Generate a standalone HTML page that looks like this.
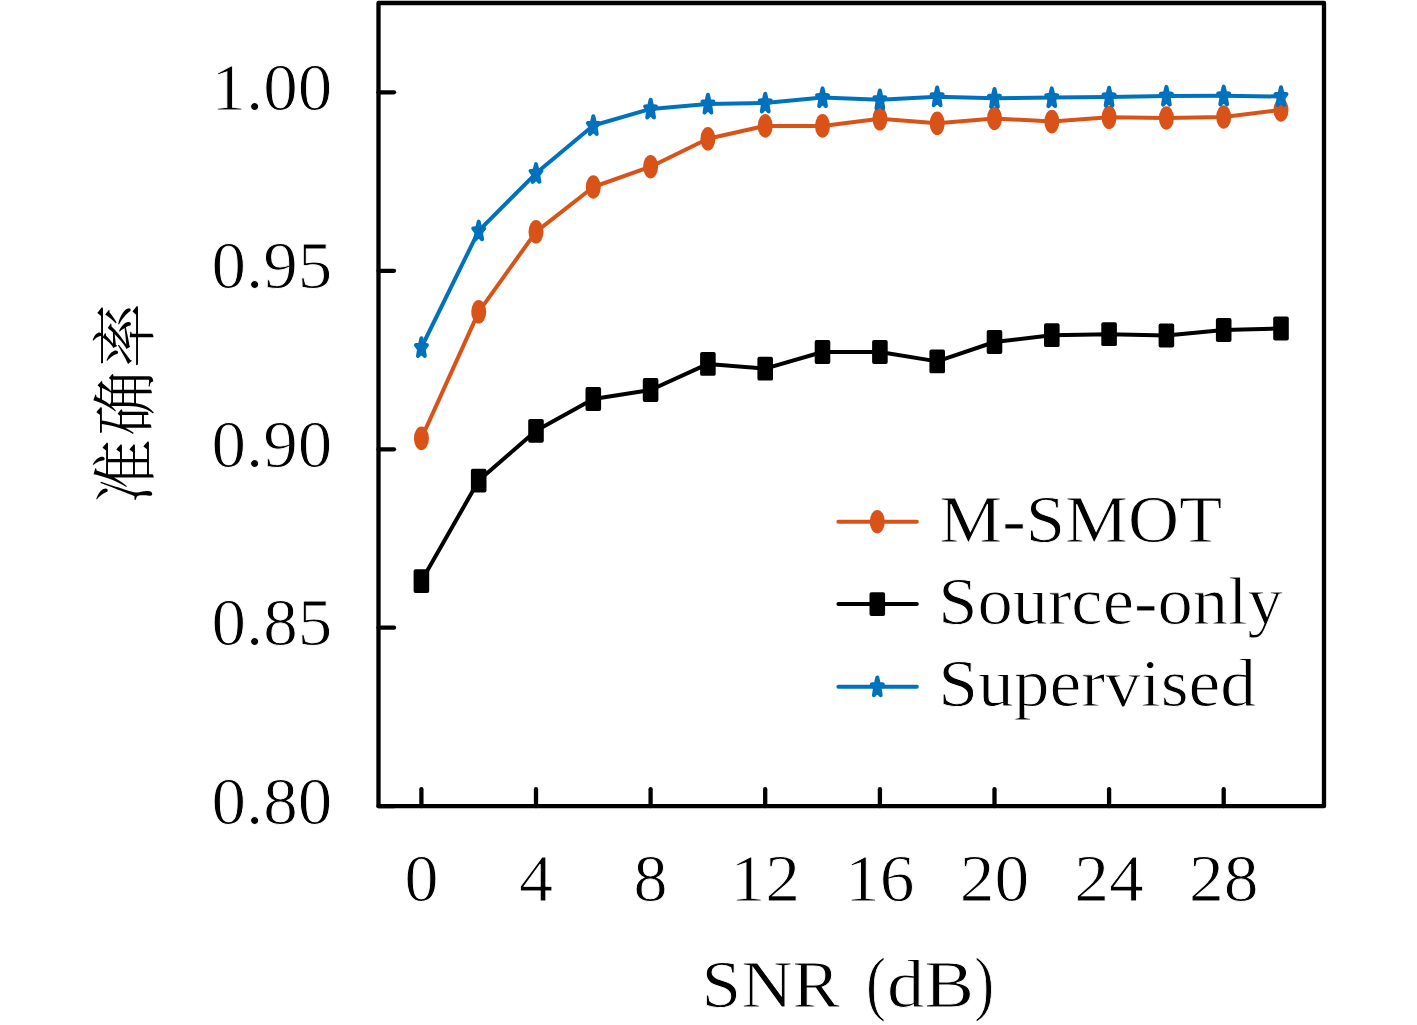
<!DOCTYPE html>
<html lang="zh"><head><meta charset="utf-8"><title>SNR accuracy chart</title>
<style>
html,body{margin:0;padding:0;background:#fff;}
body{width:1417px;height:1025px;overflow:hidden;}
svg{display:block;}
text{font-family:"Liberation Serif","Noto Serif CJK SC",serif;fill:#000;stroke:#fff;stroke-width:0.9px;}
.cjk{font-family:"Noto Serif CJK SC","Liberation Serif",serif;stroke:none;}
</style></head><body>
<svg width="1417" height="1025" viewBox="0 0 1417 1025">
<rect x="0" y="0" width="1417" height="1025" fill="#fff"/>
<g stroke="#000" stroke-width="4.3" fill="none" stroke-linecap="round" stroke-linejoin="round">
<rect x="378.5" y="3.0" width="945.5" height="803.2"/>
<line x1="378.5" y1="92.3" x2="394.0" y2="92.3"/>
<line x1="378.5" y1="270.8" x2="394.0" y2="270.8"/>
<line x1="378.5" y1="449.3" x2="394.0" y2="449.3"/>
<line x1="378.5" y1="627.7" x2="394.0" y2="627.7"/>
<line x1="378.5" y1="806.2" x2="394.0" y2="806.2"/>
<line x1="421.4" y1="806.2" x2="421.4" y2="789.2"/>
<line x1="536.0" y1="806.2" x2="536.0" y2="789.2"/>
<line x1="650.6" y1="806.2" x2="650.6" y2="789.2"/>
<line x1="765.2" y1="806.2" x2="765.2" y2="789.2"/>
<line x1="879.9" y1="806.2" x2="879.9" y2="789.2"/>
<line x1="994.5" y1="806.2" x2="994.5" y2="789.2"/>
<line x1="1109.1" y1="806.2" x2="1109.1" y2="789.2"/>
<line x1="1223.7" y1="806.2" x2="1223.7" y2="789.2"/>
</g>
<polyline points="421.4,438.3 478.7,311.8 536.0,231.8 593.3,187.0 650.6,166.7 707.9,138.8 765.2,125.9 822.5,125.9 879.9,118.8 937.2,123.3 994.5,118.4 1051.8,121.6 1109.1,117.3 1166.4,118.0 1223.7,117.0 1281.0,110.0" fill="none" stroke="#D95319" stroke-width="4.0" stroke-linejoin="round" stroke-linecap="round"/>
<ellipse cx="421.4" cy="438.3" rx="7.5" ry="11.8" fill="#D95319"/>
<ellipse cx="478.7" cy="311.8" rx="7.5" ry="11.8" fill="#D95319"/>
<ellipse cx="536.0" cy="231.8" rx="7.5" ry="11.8" fill="#D95319"/>
<ellipse cx="593.3" cy="187.0" rx="7.5" ry="11.8" fill="#D95319"/>
<ellipse cx="650.6" cy="166.7" rx="7.5" ry="11.8" fill="#D95319"/>
<ellipse cx="707.9" cy="138.8" rx="7.5" ry="11.8" fill="#D95319"/>
<ellipse cx="765.2" cy="125.9" rx="7.5" ry="11.8" fill="#D95319"/>
<ellipse cx="822.5" cy="125.9" rx="7.5" ry="11.8" fill="#D95319"/>
<ellipse cx="879.9" cy="118.8" rx="7.5" ry="11.8" fill="#D95319"/>
<ellipse cx="937.2" cy="123.3" rx="7.5" ry="11.8" fill="#D95319"/>
<ellipse cx="994.5" cy="118.4" rx="7.5" ry="11.8" fill="#D95319"/>
<ellipse cx="1051.8" cy="121.6" rx="7.5" ry="11.8" fill="#D95319"/>
<ellipse cx="1109.1" cy="117.3" rx="7.5" ry="11.8" fill="#D95319"/>
<ellipse cx="1166.4" cy="118.0" rx="7.5" ry="11.8" fill="#D95319"/>
<ellipse cx="1223.7" cy="117.0" rx="7.5" ry="11.8" fill="#D95319"/>
<ellipse cx="1281.0" cy="110.0" rx="7.5" ry="11.8" fill="#D95319"/>
<polyline points="421.4,581.1 478.7,480.6 536.0,430.8 593.3,399.0 650.6,390.0 707.9,363.9 765.2,368.7 822.5,352.0 879.9,352.0 937.2,361.4 994.5,342.0 1051.8,335.2 1109.1,334.2 1166.4,335.5 1223.7,330.0 1281.0,328.5" fill="none" stroke="#000" stroke-width="4.0" stroke-linejoin="round" stroke-linecap="round"/>
<rect x="413.6" y="569.2" width="15.6" height="23.8" rx="1.9" ry="1.9" fill="#000"/>
<rect x="470.9" y="468.7" width="15.6" height="23.8" rx="1.9" ry="1.9" fill="#000"/>
<rect x="528.2" y="418.9" width="15.6" height="23.8" rx="1.9" ry="1.9" fill="#000"/>
<rect x="585.5" y="387.1" width="15.6" height="23.8" rx="1.9" ry="1.9" fill="#000"/>
<rect x="642.8" y="378.1" width="15.6" height="23.8" rx="1.9" ry="1.9" fill="#000"/>
<rect x="700.1" y="352.0" width="15.6" height="23.8" rx="1.9" ry="1.9" fill="#000"/>
<rect x="757.4" y="356.8" width="15.6" height="23.8" rx="1.9" ry="1.9" fill="#000"/>
<rect x="814.7" y="340.1" width="15.6" height="23.8" rx="1.9" ry="1.9" fill="#000"/>
<rect x="872.1" y="340.1" width="15.6" height="23.8" rx="1.9" ry="1.9" fill="#000"/>
<rect x="929.4" y="349.5" width="15.6" height="23.8" rx="1.9" ry="1.9" fill="#000"/>
<rect x="986.7" y="330.1" width="15.6" height="23.8" rx="1.9" ry="1.9" fill="#000"/>
<rect x="1044.0" y="323.3" width="15.6" height="23.8" rx="1.9" ry="1.9" fill="#000"/>
<rect x="1101.3" y="322.3" width="15.6" height="23.8" rx="1.9" ry="1.9" fill="#000"/>
<rect x="1158.6" y="323.6" width="15.6" height="23.8" rx="1.9" ry="1.9" fill="#000"/>
<rect x="1215.9" y="318.1" width="15.6" height="23.8" rx="1.9" ry="1.9" fill="#000"/>
<rect x="1273.2" y="316.6" width="15.6" height="23.8" rx="1.9" ry="1.9" fill="#000"/>
<polyline points="421.4,347.5 478.7,230.8 536.0,173.3 593.3,125.5 650.6,108.9 707.9,104.0 765.2,102.9 822.5,97.6 879.9,99.7 937.2,96.7 994.5,98.2 1051.8,97.6 1109.1,96.9 1166.4,96.1 1223.7,95.8 1281.0,96.5" fill="none" stroke="#0072BD" stroke-width="4.0" stroke-linejoin="round" stroke-linecap="round"/>
<polygon points="421.40,338.30 422.85,344.69 426.87,345.07 423.75,349.40 424.78,356.03 421.40,352.31 418.02,356.03 419.05,349.40 415.93,345.07 419.95,344.69" fill="#0072BD" stroke="#0072BD" stroke-width="4.0" stroke-linejoin="round"/>
<polygon points="478.71,221.60 480.16,227.99 484.18,228.37 481.06,232.70 482.09,239.33 478.71,235.61 475.33,239.33 476.36,232.70 473.24,228.37 477.25,227.99" fill="#0072BD" stroke="#0072BD" stroke-width="4.0" stroke-linejoin="round"/>
<polygon points="536.01,164.10 537.47,170.49 541.48,170.87 538.36,175.20 539.39,181.83 536.01,178.11 532.63,181.83 533.66,175.20 530.54,170.87 534.56,170.49" fill="#0072BD" stroke="#0072BD" stroke-width="4.0" stroke-linejoin="round"/>
<polygon points="593.32,116.30 594.77,122.69 598.79,123.07 595.67,127.40 596.70,134.03 593.32,130.31 589.94,134.03 590.97,127.40 587.85,123.07 591.87,122.69" fill="#0072BD" stroke="#0072BD" stroke-width="4.0" stroke-linejoin="round"/>
<polygon points="650.63,99.70 652.08,106.09 656.10,106.47 652.98,110.80 654.01,117.43 650.63,113.71 647.25,117.43 648.28,110.80 645.16,106.47 649.17,106.09" fill="#0072BD" stroke="#0072BD" stroke-width="4.0" stroke-linejoin="round"/>
<polygon points="707.93,94.80 709.39,101.19 713.40,101.57 710.28,105.90 711.31,112.53 707.93,108.81 704.55,112.53 705.58,105.90 702.46,101.57 706.48,101.19" fill="#0072BD" stroke="#0072BD" stroke-width="4.0" stroke-linejoin="round"/>
<polygon points="765.24,93.70 766.69,100.09 770.71,100.47 767.59,104.80 768.62,111.43 765.24,107.71 761.86,111.43 762.89,104.80 759.77,100.47 763.79,100.09" fill="#0072BD" stroke="#0072BD" stroke-width="4.0" stroke-linejoin="round"/>
<polygon points="822.55,88.40 824.00,94.79 828.02,95.17 824.90,99.50 825.93,106.13 822.55,102.41 819.17,106.13 820.20,99.50 817.08,95.17 821.09,94.79" fill="#0072BD" stroke="#0072BD" stroke-width="4.0" stroke-linejoin="round"/>
<polygon points="879.85,90.50 881.31,96.89 885.32,97.27 882.20,101.60 883.23,108.23 879.85,104.51 876.47,108.23 877.50,101.60 874.38,97.27 878.40,96.89" fill="#0072BD" stroke="#0072BD" stroke-width="4.0" stroke-linejoin="round"/>
<polygon points="937.16,87.50 938.61,93.89 942.63,94.27 939.51,98.60 940.54,105.23 937.16,101.51 933.78,105.23 934.81,98.60 931.69,94.27 935.71,93.89" fill="#0072BD" stroke="#0072BD" stroke-width="4.0" stroke-linejoin="round"/>
<polygon points="994.47,89.00 995.92,95.39 999.94,95.77 996.82,100.10 997.85,106.73 994.47,103.01 991.09,106.73 992.12,100.10 989.00,95.77 993.01,95.39" fill="#0072BD" stroke="#0072BD" stroke-width="4.0" stroke-linejoin="round"/>
<polygon points="1051.77,88.40 1053.23,94.79 1057.24,95.17 1054.12,99.50 1055.15,106.13 1051.77,102.41 1048.39,106.13 1049.42,99.50 1046.30,95.17 1050.32,94.79" fill="#0072BD" stroke="#0072BD" stroke-width="4.0" stroke-linejoin="round"/>
<polygon points="1109.08,87.70 1110.53,94.09 1114.55,94.47 1111.43,98.80 1112.46,105.43 1109.08,101.71 1105.70,105.43 1106.73,98.80 1103.61,94.47 1107.63,94.09" fill="#0072BD" stroke="#0072BD" stroke-width="4.0" stroke-linejoin="round"/>
<polygon points="1166.39,86.90 1167.84,93.29 1171.86,93.67 1168.74,98.00 1169.77,104.63 1166.39,100.91 1163.01,104.63 1164.04,98.00 1160.92,93.67 1164.93,93.29" fill="#0072BD" stroke="#0072BD" stroke-width="4.0" stroke-linejoin="round"/>
<polygon points="1223.69,86.60 1225.15,92.99 1229.16,93.37 1226.04,97.70 1227.07,104.33 1223.69,100.61 1220.31,104.33 1221.34,97.70 1218.22,93.37 1222.24,92.99" fill="#0072BD" stroke="#0072BD" stroke-width="4.0" stroke-linejoin="round"/>
<polygon points="1281.00,87.30 1282.45,93.69 1286.47,94.07 1283.35,98.40 1284.38,105.03 1281.00,101.31 1277.62,105.03 1278.65,98.40 1275.53,94.07 1279.55,93.69" fill="#0072BD" stroke="#0072BD" stroke-width="4.0" stroke-linejoin="round"/>
<line x1="838.4" y1="521.7" x2="916.8" y2="521.7" stroke="#D95319" stroke-width="4.0" stroke-linecap="round"/>
<line x1="838.4" y1="604.1" x2="916.8" y2="604.1" stroke="#000" stroke-width="4.0" stroke-linecap="round"/>
<line x1="838.4" y1="686.7" x2="916.8" y2="686.7" stroke="#0072BD" stroke-width="4.0" stroke-linecap="round"/>
<ellipse cx="877.3" cy="521.7" rx="7.5" ry="11.8" fill="#D95319"/>
<rect x="869.5" y="592.2" width="15.6" height="23.8" rx="1.9" ry="1.9" fill="#000"/>
<polygon points="877.30,677.50 878.75,683.89 882.77,684.27 879.65,688.60 880.68,695.23 877.30,691.51 873.92,695.23 874.95,688.60 871.83,684.27 875.85,683.89" fill="#0072BD" stroke="#0072BD" stroke-width="4.0" stroke-linejoin="round"/>
<text x="939.3" y="541.5" font-size="68" text-anchor="start" textLength="283" lengthAdjust="spacingAndGlyphs">M-SMOT</text>
<text x="938.2" y="623.7" font-size="68" text-anchor="start" textLength="344.6" lengthAdjust="spacingAndGlyphs">Source-only</text>
<text x="938.2" y="705.9" font-size="68" text-anchor="start" textLength="317.8" lengthAdjust="spacingAndGlyphs">Supervised</text>
<text x="211.4" y="109.9" font-size="68" text-anchor="start" textLength="120.8" lengthAdjust="spacingAndGlyphs">1.00</text>
<text x="211.4" y="288.40000000000003" font-size="68" text-anchor="start" textLength="120.8" lengthAdjust="spacingAndGlyphs">0.95</text>
<text x="211.4" y="466.90000000000003" font-size="68" text-anchor="start" textLength="120.8" lengthAdjust="spacingAndGlyphs">0.90</text>
<text x="211.4" y="645.3000000000001" font-size="68" text-anchor="start" textLength="120.8" lengthAdjust="spacingAndGlyphs">0.85</text>
<text x="211.4" y="823.8000000000001" font-size="68" text-anchor="start" textLength="120.8" lengthAdjust="spacingAndGlyphs">0.80</text>
<text x="404.4" y="900.9" font-size="68" text-anchor="start" textLength="34" lengthAdjust="spacingAndGlyphs">0</text>
<text x="519.0" y="900.9" font-size="68" text-anchor="start" textLength="34" lengthAdjust="spacingAndGlyphs">4</text>
<text x="633.6" y="900.9" font-size="68" text-anchor="start" textLength="34" lengthAdjust="spacingAndGlyphs">8</text>
<text x="730.5" y="900.9" font-size="68" text-anchor="start" textLength="69.5" lengthAdjust="spacingAndGlyphs">12</text>
<text x="845.1" y="900.9" font-size="68" text-anchor="start" textLength="69.5" lengthAdjust="spacingAndGlyphs">16</text>
<text x="959.7" y="900.9" font-size="68" text-anchor="start" textLength="69.5" lengthAdjust="spacingAndGlyphs">20</text>
<text x="1074.3" y="900.9" font-size="68" text-anchor="start" textLength="69.5" lengthAdjust="spacingAndGlyphs">24</text>
<text x="1188.9" y="900.9" font-size="68" text-anchor="start" textLength="69.5" lengthAdjust="spacingAndGlyphs">28</text>
<text x="701.6" y="1007" font-size="68" text-anchor="start" textLength="138.4" lengthAdjust="spacingAndGlyphs">SNR</text>
<text font-size="68" transform="translate(866.0,1007) scale(0.88,1.06)">(</text>
<text x="887.0" y="1007" font-size="68" text-anchor="start" textLength="87" lengthAdjust="spacingAndGlyphs">dB</text>
<text font-size="68" transform="translate(974.2,1007) scale(0.88,1.06)">)</text>
<text class="cjk" font-size="65" font-weight="300" letter-spacing="3" text-anchor="middle" transform="translate(147.5,402) rotate(-90)">准确率</text>
</svg></body></html>
